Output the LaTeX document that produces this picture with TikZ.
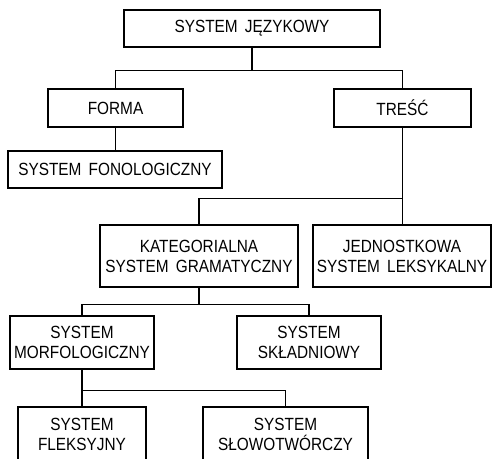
\documentclass[tikz,border=0pt]{standalone}
\usepackage{fontspec}
\setmainfont[FakeStretch=0.87]{Liberation Sans}

\begin{document}
\begin{tikzpicture}[
  x=0.6pt, y=-0.6pt,
  every node/.style={draw, line width=0.8pt, font=\fontsize{10.6}{12}\selectfont,
                     align=center, inner sep=0pt},
  box/.style 2 args={minimum width=#1*0.6pt, minimum height=#2*0.6pt},
  line/.style={line width=0.8pt}
]
  \useasboundingbox (0,0) rectangle (492,458);
  \node[box={256}{37}] (jez) at (252,28.5) {SYSTEM\ \,JĘZYKOWY};
  \node[box={135}{38}] (forma) at (115.5,108) {FORMA};
  \node[box={137}{38}] (tresc) at (402.5,108) {TREŚĆ};
  \node[box={214}{37}] (fonol) at (115,169.5) {SYSTEM\ \,FONOLOGICZNY};
  \node[box={198}{62}] (kateg) at (199,256) {KATEGORIALNA\\SYSTEM\ \,GRAMATYCZNY};
  \node[box={178}{62}] (jedn) at (402,256) {JEDNOSTKOWA\\SYSTEM\ \,LEKSYKALNY};
  \node[box={144}{53}] (morf) at (82,342.5) {SYSTEM\\MORFOLOGICZNY};
  \node[box={144}{53}] (skladn) at (309,342.5) {SYSTEM\\SKŁADNIOWY};
  \node[box={128}{54}] (fleks) at (82,434) {SYSTEM\\FLEKSYJNY};
  \node[box={165}{54}] (slowo) at (285.5,434) {SYSTEM\\SŁOWOTWÓRCZY};
  \draw[line] (jez.south) -- ++(0,23) -| (forma.north);
  \draw[line] (jez.south) -- ++(0,23) -| (tresc.north);
  \draw[line] (forma.south) -- (forma.south |- fonol.north);
  \draw[line] (tresc.south) -- (tresc.south |- jedn.north);
  \draw[line] (tresc.south) ++(0,71) -| (kateg.north);
  \draw[line] (kateg.south) -- ++(0,17) -| (morf.north);
  \draw[line] (kateg.south) -- ++(0,17) -| (skladn.north);
  \draw[line] (morf.south) -- ++(0,21) -| (fleks.north);
  \draw[line] (morf.south) -- ++(0,21) -| (slowo.north);
\end{tikzpicture}
\end{document}
